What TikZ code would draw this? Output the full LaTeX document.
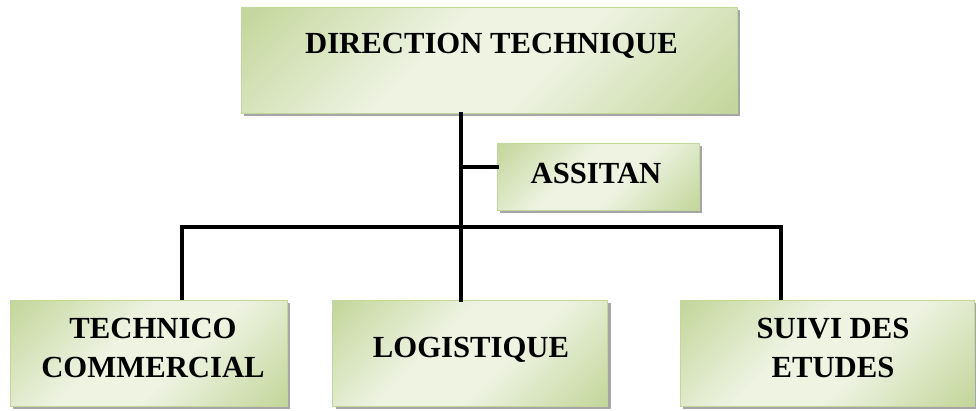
\documentclass[tikz,border=0pt]{standalone}
\usepackage{fontspec}
\setmainfont{Liberation Serif}
\usetikzlibrary{shadows}
\definecolor{gdark}{HTML}{C3D69B}
\definecolor{glight}{HTML}{EEF3E2}
\definecolor{shadowgray}{HTML}{A6A6A6}
% diagonal band: darker green in two corners, pale across the middle
\pgfdeclareverticalshading{greenband}{100bp}{%
  color(0bp)=(gdark); color(15bp)=(gdark); color(42bp)=(glight);
  color(58bp)=(glight); color(85bp)=(gdark); color(100bp)=(gdark)}
\tikzset{
  orgbox/.style={draw=gdark, line width=0.8pt, inner sep=0pt,
    shade, shading=greenband, shading angle=45,
    general shadow={fill=shadowgray, shadow xshift=3pt, shadow yshift=-3pt}},
  lbl/.style={font=\bfseries\fontsize{30.7}{39}\selectfont, anchor=base, inner sep=0pt},
  link/.style={line width=3.8pt, line cap=rect}
}
\begin{document}
\begin{tikzpicture}[x=1pt, y=-1pt]
  \useasboundingbox (0,0) rectangle (976,410);
  % boxes (centre, size)
  \node[orgbox, minimum width=496pt, minimum height=106pt] (dt) at (489,60) {};
  \node[orgbox, minimum width=202pt, minimum height=67pt] (as) at (598,176.5) {};
  \node[orgbox, minimum width=277pt, minimum height=106pt] (tc) at (148.5,353) {};
  \node[orgbox, minimum width=275pt, minimum height=106pt] (lg) at (470,353) {};
  \node[orgbox, minimum width=294pt, minimum height=106pt] (sv) at (827,353) {};
  % labels (base = baseline of the last line)
  \node[lbl] (tdt) at (491.5,53) {DIRECTION TECHNIQUE};
  \node[lbl] (tas) at (596,183) {ASSITAN};
  \node[lbl, align=center] (ttc) at (153,377) {TECHNICO\\COMMERCIAL};
  \node[lbl] (tlg) at (471,357) {LOGISTIQUE};
  \node[lbl, align=center] (tsv) at (833,377) {SUIVI DES\\ETUDES};
  % connector anchors
  \coordinate (trunk) at (461,0);
  \coordinate (branch) at (0,167);
  \coordinate (bus) at (0,227);
  \coordinate (dropl) at (182,0);
  \coordinate (dropr) at (781,0);
  % connectors
  \draw[link] (dt.south -| trunk) -- (lg.north -| trunk);
  \draw[link] (trunk |- branch) -- (as.west |- branch);
  \draw[link, line cap=butt] (dropl |- tc.north) -- (dropl |- bus) -- (dropr |- bus) -- (dropr |- sv.north);
\end{tikzpicture}
\end{document}
